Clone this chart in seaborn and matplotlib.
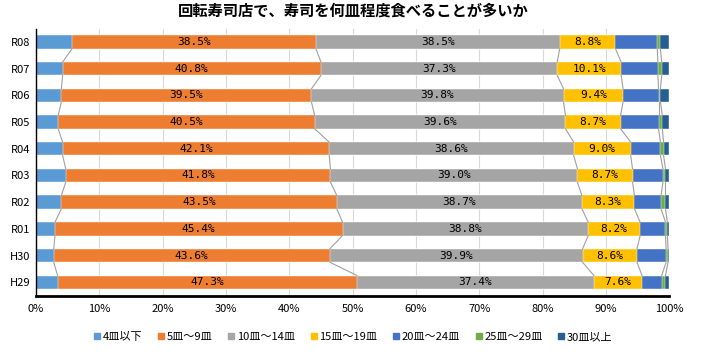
import numpy as np
import pandas as pd
import matplotlib
matplotlib.use('Agg')
import matplotlib.pyplot as plt
import seaborn as sns
from matplotlib.lines import Line2D

years = ['R08', 'R07', 'R06', 'R05', 'R04', 'R03', 'R02', 'R01', 'H30', 'H29']
series = ['4皿以下', '5皿～9皿', '10皿～14皿', '15皿～19皿', '20皿～24皿', '25皿～29皿', '30皿以上']

v_4 = [5.7, 4.2, 4.0, 3.5, 4.2, 4.7, 4.0, 3.0, 2.8, 3.4]
v_5_9 = [38.5, 40.8, 39.5, 40.5, 42.1, 41.8, 43.5, 45.4, 43.6, 47.3]
v_10_14 = [38.5, 37.3, 39.8, 39.6, 38.6, 39.0, 38.7, 38.8, 39.9, 37.4]
v_15_19 = [8.8, 10.1, 9.4, 8.7, 9.0, 8.7, 8.3, 8.2, 8.6, 7.6]
v_20_24 = [6.6, 5.8, 5.6, 6.0, 4.7, 4.8, 4.2, 4.0, 4.6, 3.1]
v_25_29 = [0.5, 0.6, 0.3, 0.6, 0.5, 0.4, 0.7, 0.3, 0.3, 0.6]
v_30 = [1.4, 1.2, 1.4, 1.1, 0.9, 0.6, 0.6, 0.3, 0.2, 0.6]

colors = ['#5B9BD5', '#ED7D31', '#A5A5A5', '#FFC000', '#4472C4', '#70AD47', '#255E91']
labeled = [1, 2, 3]

plt.rcParams['font.family'] = ['Noto Sans CJK JP', 'DejaVu Sans']

vals = np.array([v_4, v_5_9, v_10_14, v_15_19, v_20_24, v_25_29, v_30]).T
cum = vals.cumsum(axis=1)

fig = plt.figure(figsize=(7.06, 3.54), dpi=100)
ax = fig.add_axes([0.051, 0.165, 0.897, 0.754])

bar_h = 0.5
# stacked bars: draw cumulative totals from the largest down
for j in reversed(range(len(series))):
    df = pd.DataFrame({'year': years, 'val': cum[:, j]})
    sns.barplot(data=df, x='val', y='year', orient='h', color=colors[j],
                width=bar_h, saturation=1, ax=ax, edgecolor='white', linewidth=0.3)

# series lines between bars
for j in range(len(series) - 1):
    for i in range(len(years) - 1):
        ax.plot([cum[i, j], cum[i + 1, j]], [i + bar_h / 2, i + 1 - bar_h / 2],
                color='#A0A0A0', lw=0.8, zorder=1)

# data labels
for i in range(len(years)):
    for j in labeled:
        cx = cum[i, j] - vals[i, j] / 2
        ax.text(cx, i, f'{vals[i, j]:.1f}%', ha='center', va='center',
                fontsize=8, color='black', family='DejaVu Sans Mono')

ax.set_xlim(0, 100)
ax.set_ylim(len(years) - 0.5, -0.5)
ax.set_xticks(np.arange(0, 101, 10))
ax.set_xticklabels([f'{t}%' for t in range(0, 101, 10)], fontsize=8)
ax.tick_params(axis='y', labelsize=8, length=0, pad=4)
ax.tick_params(axis='x', length=0, pad=6)
ax.set_xlabel('')
ax.set_ylabel('')
ax.grid(axis='x', color='#D9D9D9', lw=0.8)
ax.set_axisbelow(True)
for s in ['top', 'right']:
    ax.spines[s].set_visible(False)
ax.spines['left'].set_color('black')
ax.spines['left'].set_linewidth(1.0)
ax.spines['bottom'].set_color('black')
ax.spines['bottom'].set_linewidth(2.0)

handles = [Line2D([], [], marker='s', ls='', color=c, markersize=4.5) for c in colors]
fig.legend(handles, series, loc='center', bbox_to_anchor=(0.5, 0.048), ncol=7,
           frameon=False, fontsize=8, handlelength=0.6, handletextpad=0.2,
           columnspacing=1.4)

fig.suptitle('回転寿司店で、寿司を何皿程度食べることが多いか', x=0.5, y=0.97,
             fontsize=11, fontweight='bold', va='center')

fig.savefig('out.png', dpi=100)
